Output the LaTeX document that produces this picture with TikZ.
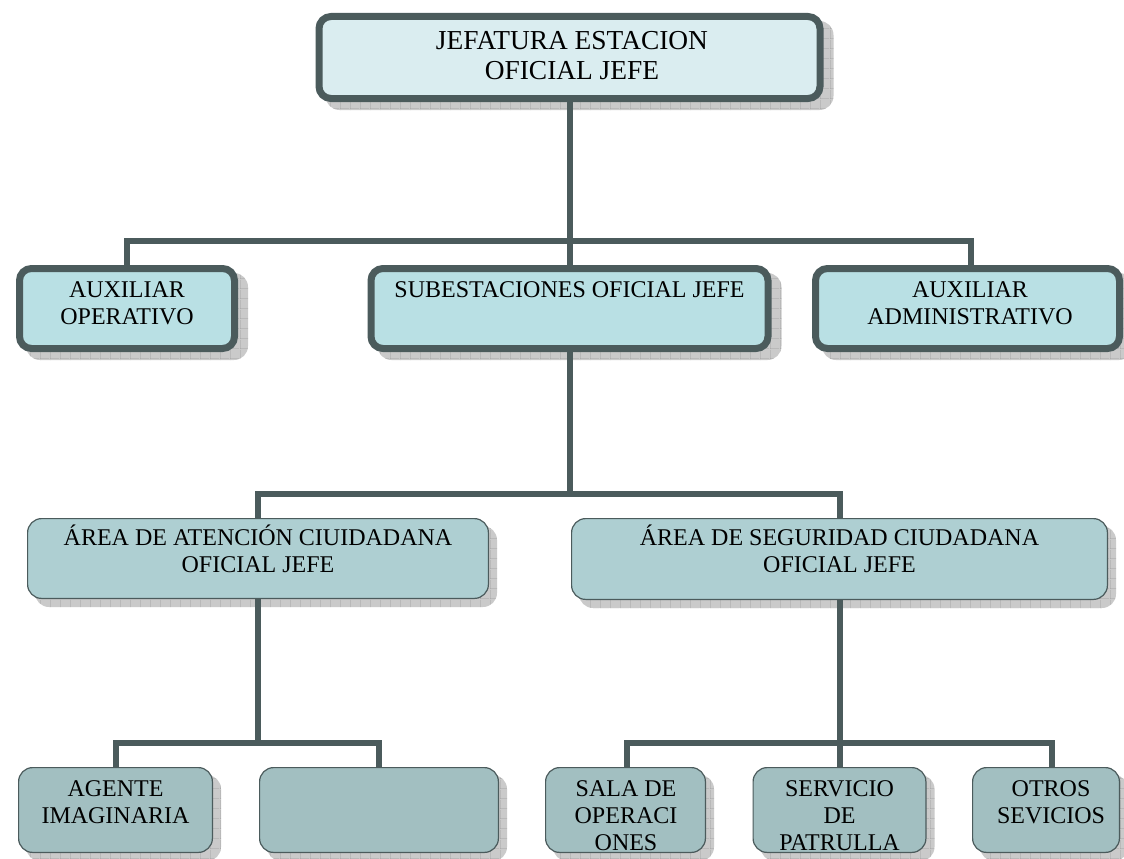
\documentclass[tikz,border=0pt]{standalone}
\usepackage{fontspec}
\setmainfont{Liberation Serif}
\usetikzlibrary{backgrounds,patterns.meta}
\definecolor{edge}{HTML}{4B5B5C}
\definecolor{fTop}{HTML}{DAEDF0}
\definecolor{fTwo}{HTML}{B9E0E4}
\definecolor{fThree}{HTML}{AECFD2}
\definecolor{fFour}{HTML}{A2BFC1}
\definecolor{shfill}{HTML}{CACACA}
\definecolor{shline}{HTML}{9C9C9C}
\tikzdeclarepattern{
  name=shgrid, type=uncolored,
  bounding box={(0pt,0pt) and (10pt,10pt)},
  tile size={(10pt,10pt)},
  code={\pgfsetlinewidth{0.8pt}
    \pgfpathmoveto{\pgfpointorigin}\pgfpathlineto{\pgfpoint{10pt}{0pt}}
    \pgfpathmoveto{\pgfpointorigin}\pgfpathlineto{\pgfpoint{0pt}{10pt}}
    \pgfusepath{stroke}}
}
\newcommand{\firstline}{\rule{0pt}{24pt}}
\tikzset{
  thickbox/.style={draw=edge, line width=7pt, rounded corners=12pt, inner sep=0pt},
  thinbox/.style={draw=edge, line width=1.2pt, rounded corners=14pt, inner sep=0pt},
  shadowstyle/.style={fill=shfill, rounded corners=14pt, postaction={pattern=shgrid, pattern color=shline}},
  lbl/.style={anchor=north, align=center, inner sep=0pt, text=black, font=\fontsize{24}{27}\selectfont},
  lbltop/.style={lbl, font=\fontsize{27.4}{30.5}\selectfont},
  conn/.style={draw=edge, line width=6pt}
}
\begin{document}
\begin{tikzpicture}[x=1pt, y=-1pt]
\useasboundingbox (0,0) rectangle (1124,859);
% boxes
\node[thickbox, fill=fTop, minimum width=501pt, minimum height=82pt] (top) at (569.5,57.5) {};
\node[thickbox, fill=fTwo, minimum width=215pt, minimum height=80pt] (auxop) at (127,308.5) {};
\node[thickbox, fill=fTwo, minimum width=397pt, minimum height=80pt] (subest) at (569.5,308.5) {};
\node[thickbox, fill=fTwo, minimum width=304pt, minimum height=80pt] (auxadm) at (967.5,308.5) {};
\node[thinbox, fill=fThree, minimum width=460.8pt, minimum height=79.8pt] (aten) at (258,558.5) {};
\node[thinbox, fill=fThree, minimum width=535.8pt, minimum height=80.8pt] (segu) at (839.5,559) {};
\node[thinbox, fill=fFour, minimum width=193.8pt, minimum height=84.8pt] (agente) at (115.5,810) {};
\node[thinbox, fill=fFour, minimum width=238.8pt, minimum height=84.8pt] (empty) at (379,810) {};
\node[thinbox, fill=fFour, minimum width=159.8pt, minimum height=84.8pt] (sala) at (625.5,810) {};
\node[thinbox, fill=fFour, minimum width=172.8pt, minimum height=84.8pt] (serv) at (839.5,810) {};
\node[thinbox, fill=fFour, minimum width=146.8pt, minimum height=84.8pt] (otros) at (1046,810) {};
% shadows
\begin{scope}[on background layer]
\foreach \n in {top,auxop,subest,auxadm}
  \fill[shadowstyle] ([shift={(10,8)}]\n.north west) rectangle ([shift={(10,8)}]\n.south east);
\foreach \n in {aten,segu,agente,empty,sala,serv,otros}
  \fill[shadowstyle] ([shift={(8,8)}]\n.north west) rectangle ([shift={(8,8)}]\n.south east);
\end{scope}
% labels
\node[lbltop] (ttop) at (572,25) {\firstline JEFATURA ESTACION\\OFICIAL JEFE};
\node[lbl] (tauxop) at (127,273) {\firstline AUXILIAR\\OPERATIVO};
\node[lbl] (tsubest) at (569.5,273) {\firstline SUBESTACIONES OFICIAL JEFE};
\node[lbl] (tauxadm) at (970,273) {\firstline AUXILIAR\\ADMINISTRATIVO};
\node[lbl] (taten) at (258,521) {\firstline ÁREA DE ATENCIÓN CIUIDADANA\\OFICIAL JEFE};
\node[lbl] (tsegu) at (839.5,521) {\firstline ÁREA DE SEGURIDAD CIUDADANA\\OFICIAL JEFE};
\node[lbl] (tagente) at (115.5,772) {\firstline AGENTE\\IMAGINARIA};
\node[lbl] (tsala) at (626,772) {\firstline SALA DE\\OPERACI\\ONES};
\node[lbl] (tserv) at (839.5,772) {\firstline SERVICIO\\DE\\PATRULLA};
\node[lbl] (totros) at (1051,772) {\firstline OTROS\\SEVICIOS};
% connectors
\draw[conn] (top.south) -- (subest.north);
\draw[conn] (top.south) -- ++(0,139) -| (auxop.north);
\draw[conn] (top.south) -- ++(0,139) -| ([xshift=3.5pt]auxadm.north);
\draw[conn] (subest.south) -- ++(0,142) -| (aten.north);
\draw[conn] (subest.south) -- ++(0,142) -| (segu.north);
\draw[conn] (aten.south) -- ++(0,144) -| (agente.north);
\draw[conn] (aten.south) -- ++(0,144) -| (empty.north);
\draw[conn] (segu.south) -- (serv.north);
\draw[conn] (segu.south) -- ++(0,143) -| ([xshift=1.5pt]sala.north);
\draw[conn] (segu.south) -- ++(0,143) -| ([xshift=6pt]otros.north);
\end{tikzpicture}
\end{document}
